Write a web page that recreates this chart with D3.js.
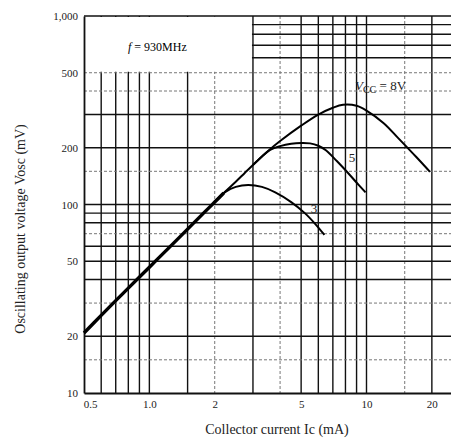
<!DOCTYPE html>
<html>
<head>
<meta charset="utf-8">
<script src="https://cdn.jsdelivr.net/npm/d3@7"></script>
<style>
  body { margin: 0; background: #fff; }
  svg { display: block; font-family: "Liberation Serif", "DejaVu Serif", serif; }
</style>
</head>
<body>
<div id="chart"></div>
<script>
// collector current (mA) vs oscillating output voltage (mV), f = 930MHz
// common rising part, where all three curves lie on top of each other
var envIc = [0.5, 0.6, 0.7, 0.8, 1.0, 1.2, 1.5, 1.8, 2.0, 2.2]
var envV  = [20.8, 25.8, 30.9, 36, 46.5, 57.3, 74, 91.4, 103, 115]

var ic8 = [2.0, 2.2, 2.5, 2.75, 3.0, 3.5, 4, 5, 6, 7, 7.8, 9, 10, 12, 14, 17, 19.6]
var v8  = [103, 115, 132, 147, 162, 191, 217, 262, 300, 326, 338, 334, 315, 270, 225, 178, 149]

var ic5 = [3.0, 3.3, 3.6, 4, 4.5, 5, 5.5, 6, 6.5, 7.3, 8.4, 9.2, 9.9]
var v5  = [162, 180, 195, 204, 210, 212, 211, 205, 194, 170, 143, 127, 116]

var ic3 = [2.0, 2.25, 2.5, 2.85, 3.3, 3.8, 4.5, 5.2, 5.8, 6.4]
var v3  = [103, 117, 124, 127, 124, 116, 103, 90, 79, 69]

var xTicks = [0.5, 1, 2, 5, 10, 20]
var yTicks = [10, 20, 50, 100, 200, 500, 1000]
var xGrid = [0.6, 0.7, 0.8, 0.9, 1, 1.5, 2, 3, 4, 5, 6, 7, 8, 9, 10, 15, 20]
var yGrid = [15, 20, 30, 40, 50, 60, 70, 80, 90, 100, 150, 200, 300, 400, 500, 600, 700, 800, 900, 1000]
var xDashed = [2, 4, 15]
var yDashed = [15, 30, 70, 150, 400, 500]

var W = 451, H = 440

var svg = d3.select("#chart").append("svg")
    .attr("width", W)
    .attr("height", H)

const x = d3.scaleLog().domain([0.5, 24.5]).range([84, 451])
const y = d3.scaleLog().domain([10, 1000]).range([393, 16])

// grid
svg.append("g").selectAll("line")
    .data(xGrid)
    .join("line")
    .attr("x1", d => x(d)).attr("x2", d => x(d))
    .attr("y1", y(1000)).attr("y2", y(10))
    .attr("stroke", d => xDashed.indexOf(d) !== -1 ? "#777" : "#111")
    .attr("stroke-width", d => xDashed.indexOf(d) !== -1 ? 1 : 1.4)
    .attr("stroke-dasharray", d => xDashed.indexOf(d) !== -1 ? "3,2" : null)

svg.append("g").selectAll("line")
    .data(yGrid)
    .join("line")
    .attr("x1", x(0.5)).attr("x2", W)
    .attr("y1", d => y(d)).attr("y2", d => y(d))
    .attr("stroke", d => yDashed.indexOf(d) !== -1 ? "#777" : "#111")
    .attr("stroke-width", d => yDashed.indexOf(d) !== -1 ? 1 : 1.4)
    .attr("stroke-dasharray", d => yDashed.indexOf(d) !== -1 ? "3,2" : null)

// blank box for the frequency note
svg.append("rect")
    .attr("x", x(0.5) + 1)
    .attr("y", y(1000) + 1)
    .attr("width", x(3) - x(0.5) - 2)
    .attr("height", y(500) - y(1000) - 2)
    .attr("fill", "#fff")

svg.append("text")
    .attr("x", 128)
    .attr("y", 51)
    .style("font-size", "12px")
    .html('<tspan font-style="italic">f</tspan> = 930MHz')

// axes
svg.append("g")
    .attr("transform", `translate(${x(0.5)},0)`)
    .call(d3.axisLeft(y).tickValues(yTicks).tickFormat(d3.format(",")).tickSize(0).tickPadding(6))
    .call(g => g.select(".domain").attr("stroke", "#111").attr("stroke-width", 1.8))
    .selectAll("text")
      .style("font-size", "11px")
      .style("font-family", "Liberation Serif")
      .attr("fill", "#222")

svg.append("g")
    .attr("transform", `translate(0,${y(10)})`)
    .call(d3.axisBottom(x).tickValues(xTicks)
        .tickFormat(d => d < 1 ? "0.5" : d === 1 ? "1.0" : d3.format("d")(d))
        .tickSize(0).tickPadding(7))
    .call(g => g.select(".domain").attr("stroke", "#111").attr("stroke-width", 1.8))
    .selectAll("text")
      .style("font-size", "11px")
      .style("font-family", "Liberation Serif")
      .attr("fill", "#222")
      .attr("dx", d => d === 0.5 ? 6 : 0)

// axis titles
svg.append("text")
    .attr("x", 277)
    .attr("y", 434)
    .attr("text-anchor", "middle")
    .style("font-size", "14px")
    .attr("fill", "#222")
    .text("Collector current  Ic  (mA)")

svg.append("text")
    .attr("transform", "translate(25,229) rotate(-90)")
    .attr("text-anchor", "middle")
    .style("font-size", "14px")
    .attr("fill", "#222")
    .text("Oscillating output voltage  Vosc  (mV)")

// curves
function pts(ics, vs) {
    return ics.map((d, i) => ({ ic: d, v: vs[i] }))
}

var line = d3.line()
    .x(d => x(d.ic))
    .y(d => y(d.v))
    .curve(d3.curveCatmullRom)

svg.append("path")
    .datum(pts(envIc, envV))
    .attr("d", line)
    .attr("fill", "none")
    .attr("stroke", "#000")
    .attr("stroke-width", 3.4)

var series = [[ic8, v8], [ic5, v5], [ic3, v3]]
series.forEach(s => {
    svg.append("path")
        .datum(pts(s[0], s[1]))
        .attr("d", line)
        .attr("fill", "none")
        .attr("stroke", "#000")
        .attr("stroke-width", 2)
})

// curve labels
svg.append("text")
    .attr("x", 355)
    .attr("y", 90)
    .style("font-size", "13px")
    .attr("fill", "#222")
    .html('<tspan font-style="italic">V</tspan><tspan font-size="10px" dy="3">CC</tspan><tspan dy="-3"> = 8V</tspan>')

svg.append("text")
    .attr("x", 352)
    .attr("y", 162)
    .attr("text-anchor", "middle")
    .style("font-size", "13px")
    .attr("fill", "#222")
    .text("5")

svg.append("text")
    .attr("x", 314)
    .attr("y", 213)
    .attr("text-anchor", "middle")
    .style("font-size", "13px")
    .attr("fill", "#222")
    .text("3")
</script>
</body>
</html>
